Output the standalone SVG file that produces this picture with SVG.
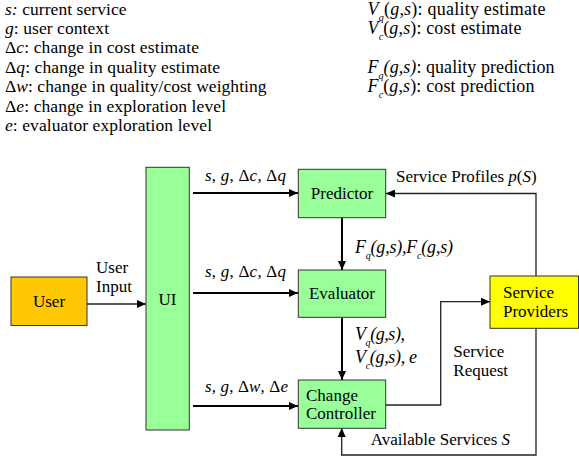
<svg xmlns="http://www.w3.org/2000/svg" width="579" height="459" viewBox="0 0 579 459">
<defs>
<marker id="ah" markerUnits="userSpaceOnUse" markerWidth="9" markerHeight="8" refX="9" refY="4" orient="auto">
<path d="M0,0 L9,4 L0,8 Z" fill="#000"/>
</marker>
</defs>
<style>
text{font-family:"Liberation Serif","Times New Roman",serif;font-size:17px;fill:#000}
#legend-left text{font-size:17.5px}
#legend-right text,.fx{font-size:18px}
.sub{font-size:10px}
.box{stroke:#333;stroke-width:1}
.g{fill:#99ff99}
.thick{stroke:#000;stroke-width:2;fill:none}
.thin{stroke:#222;stroke-width:1.3;fill:none}
.it{font-style:italic}
</style>
<rect width="579" height="459" fill="#fff"/>
<g id="legend-left">
<text x="5" y="15" textLength="121.5" lengthAdjust="spacing"><tspan class="it">s:</tspan> current service</text>
<text x="5" y="34" textLength="104" lengthAdjust="spacing"><tspan class="it">g</tspan>: user context</text>
<text x="5" y="53" textLength="194" lengthAdjust="spacing">Δ<tspan class="it">c</tspan>: change in cost estimate</text>
<text x="5" y="72.5" textLength="215" lengthAdjust="spacing">Δ<tspan class="it">q</tspan>: change in quality estimate</text>
<text x="5" y="92" textLength="261.5" lengthAdjust="spacing">Δ<tspan class="it">w</tspan>: change in quality/cost weighting</text>
<text x="5" y="111.5" textLength="221" lengthAdjust="spacing">Δ<tspan class="it">e</tspan>: change in exploration level</text>
<text x="5" y="131" textLength="207" lengthAdjust="spacing"><tspan class="it">e</tspan>: evaluator exploration level</text>
</g>
<g id="legend-right">
<text x="367.5" y="15" textLength="178" lengthAdjust="spacing"><tspan class="it">V</tspan><tspan class="sub it" dy="6">q</tspan><tspan dy="-6">(</tspan><tspan class="it">g</tspan>,<tspan class="it">s</tspan>): quality estimate</text>
<text x="367.5" y="34" textLength="154" lengthAdjust="spacing"><tspan class="it">V</tspan><tspan class="sub it" dy="6">c</tspan><tspan dy="-6">(</tspan><tspan class="it">g</tspan>,<tspan class="it">s</tspan>): cost estimate</text>
<text x="367.5" y="72.5" textLength="187" lengthAdjust="spacing"><tspan class="it">F</tspan><tspan class="sub it" dy="6">q</tspan><tspan class="it" dy="-6">(g,s)</tspan>: quality prediction</text>
<text x="367.5" y="92" textLength="167" lengthAdjust="spacing"><tspan class="it">F</tspan><tspan class="sub it" dy="6">c</tspan><tspan dy="-6">(</tspan><tspan class="it">g</tspan>,<tspan class="it">s</tspan>): cost prediction</text>
</g>
<g id="connectors">
<line class="thin" x1="87" y1="304" x2="146" y2="304" marker-end="url(#ah)"/>
<line class="thick" x1="193" y1="193" x2="298" y2="193" marker-end="url(#ah)"/>
<line class="thick" x1="193" y1="293" x2="298" y2="293" marker-end="url(#ah)"/>
<line class="thick" x1="193" y1="406" x2="298" y2="406" marker-end="url(#ah)"/>
<line class="thick" x1="342" y1="218" x2="342" y2="270" marker-end="url(#ah)"/>
<line class="thick" x1="342" y1="318" x2="342" y2="380" marker-end="url(#ah)"/>
<polyline class="thin" points="536,276 536,193.5 386,193.5" marker-end="url(#ah)"/>
<polyline class="thin" points="536,328 536,455 341.7,455 341.7,428" marker-end="url(#ah)"/>
<polyline class="thin" points="386,405 440.7,405 440.7,301.7 490,301.7" marker-end="url(#ah)"/>
</g>
<g id="user">
<rect class="box" x="11" y="277" width="76" height="48.5" fill="#ffc800"/>
<text x="49" y="307" text-anchor="middle">User</text>
</g>
<g id="ui">
<rect class="box g" x="146" y="167.3" width="43.3" height="262.7"/>
<text x="167.5" y="305" text-anchor="middle">UI</text>
</g>
<g id="predictor">
<rect class="box g" x="298.3" y="169.3" width="87.4" height="48.4"/>
<text x="342" y="199.3" text-anchor="middle">Predictor</text>
</g>
<g id="evaluator">
<rect class="box g" x="298.3" y="270" width="87.4" height="47.3"/>
<text x="342" y="299.3" text-anchor="middle">Evaluator</text>
</g>
<g id="change-controller">
<rect class="box g" x="298.3" y="380" width="87.4" height="48.3"/>
<text x="306" y="400.7">Change</text>
<text x="306" y="419">Controller</text>
</g>
<g id="service-providers">
<rect class="box" x="490" y="276" width="88.5" height="52.3" fill="#ffff00"/>
<text x="503" y="298.3">Service</text>
<text x="503" y="316.7">Providers</text>
</g>
<g id="labels">
<text x="96" y="272.7">User</text>
<text x="96" y="292.3">Input</text>
<text x="205" y="180.7" textLength="81" lengthAdjust="spacing"><tspan class="it">s</tspan>, <tspan class="it">g</tspan>, Δ<tspan class="it">c</tspan>, Δ<tspan class="it">q</tspan></text>
<text x="205" y="277" textLength="81" lengthAdjust="spacing"><tspan class="it">s</tspan>, <tspan class="it">g</tspan>, Δ<tspan class="it">c</tspan>, Δ<tspan class="it">q</tspan></text>
<text x="205" y="391.7" textLength="83" lengthAdjust="spacing"><tspan class="it">s</tspan>, <tspan class="it">g</tspan>, Δ<tspan class="it">w</tspan>, Δ<tspan class="it">e</tspan></text>
<text x="396" y="181.7">Service Profiles <tspan class="it">p</tspan>(<tspan class="it">S</tspan>)</text>
<text x="355" y="253.3" class="it fx" textLength="98" lengthAdjust="spacing"><tspan>F</tspan><tspan class="sub" dy="6">q</tspan><tspan dy="-6">(g,s),F</tspan><tspan class="sub" dy="6">c</tspan><tspan dy="-6">(g,s)</tspan></text>
<text x="355" y="340" class="it fx" textLength="50" lengthAdjust="spacing"><tspan>V</tspan><tspan class="sub" dy="6">q</tspan><tspan dy="-6">(g,s),</tspan></text>
<text x="355" y="363.3" class="it fx" textLength="62" lengthAdjust="spacing"><tspan>V</tspan><tspan class="sub" dy="6">c</tspan><tspan dy="-6">(g,s), e</tspan></text>
<text x="453.3" y="357.3">Service</text>
<text x="453.3" y="376">Request</text>
<text x="370.7" y="445">Available Services <tspan class="it">S</tspan></text>
</g>
</svg>
